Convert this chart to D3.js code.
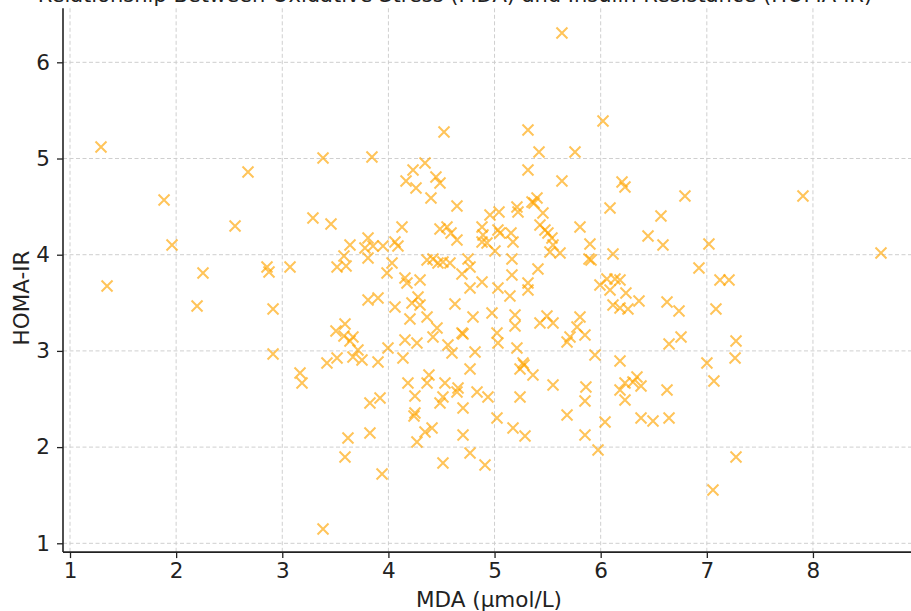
<!DOCTYPE html>
<html>
<head>
<meta charset="utf-8">
<script src="https://cdn.jsdelivr.net/npm/d3@7"></script>
<style>
  html, body { margin: 0; padding: 0; background: #ffffff; }
  svg { display: block; font-family: "DejaVu Sans", sans-serif; }
</style>
</head>
<body>
<svg id="chart" width="911" height="611"></svg>
<script>
// ---- data ----
const mdaValues = [
  1.292, 1.349, 1.886, 1.961, 2.197, 2.253, 2.555, 2.677, 2.856, 2.875,
  2.913, 2.913, 3.073, 3.167, 3.186, 3.289, 3.384, 3.384, 3.459, 3.421,
  3.516, 3.516, 3.601, 3.506, 3.591, 3.581, 3.666, 3.638, 3.619, 3.591,
  3.845, 4.524, 5.635, 5.315, 5.419, 5.758, 5.315, 5.635, 6.022, 6.201,
  6.229, 4.345, 4.232, 4.166, 4.260, 4.448, 4.486, 4.401, 4.646, 4.128,
  4.957, 5.042, 5.211, 5.221, 5.353, 5.372, 5.400, 5.456, 6.088, 5.805,
  5.899, 4.486, 4.552, 4.590, 4.646, 4.882, 4.891, 4.882, 4.929, 5.032,
  5.051, 5.155, 5.174, 5.428, 5.475, 5.503, 5.541, 5.551, 5.522, 5.617,
  5.004, 5.890, 5.909, 6.116, 3.638, 3.581, 3.808, 3.855, 3.779, 3.949,
  4.062, 4.090, 3.808, 4.364, 4.420, 4.467, 4.514, 4.580, 4.693, 4.750,
  4.769, 5.164, 5.164, 5.409, 4.034, 3.987, 4.156, 4.175, 4.298, 4.769,
  4.882, 5.032, 5.315, 5.315, 5.145, 5.993, 6.059, 6.135, 6.182, 6.088,
  6.238, 3.808, 3.902, 4.279, 4.222, 4.298, 4.627, 4.062, 4.976, 5.193,
  5.193, 6.116, 6.182, 6.257, 6.361, 4.203, 4.364, 4.458, 4.797, 5.428,
  5.494, 5.551, 5.711, 5.777, 5.805, 5.852, 5.683, 4.156, 4.269, 4.693,
  4.703, 5.023, 5.032, 4.420, 5.211, 4.561, 4.599, 4.816, 3.996, 3.713,
  3.751, 3.666, 3.902, 4.137, 5.268, 6.182, 5.946, 4.769, 4.184, 4.250,
  4.364, 4.382, 4.533, 4.514, 4.486, 4.656, 4.646, 4.703, 4.835, 4.938,
  3.826, 3.921, 4.250, 4.241, 4.345, 4.411, 4.269, 4.703, 3.826, 3.940,
  4.514, 4.769, 4.910, 5.023, 5.174, 5.287, 5.240, 5.277, 5.362, 5.240,
  5.551, 5.683, 5.861, 5.852, 5.852, 5.975, 6.041, 6.182, 6.229, 6.229,
  6.794, 7.906, 6.568, 6.446, 6.587, 7.020, 8.641, 6.926, 7.124, 7.209,
  6.625, 6.738, 7.086, 6.644, 6.757, 7.275, 7.001, 7.266, 7.067, 6.342,
  6.380, 6.304, 6.625, 6.380, 6.493, 6.644, 7.275, 7.058
];
const homaValues = [
  5.120, 3.675, 4.569, 4.101, 3.467, 3.810, 4.298, 4.860, 3.872, 3.820,
  3.436, 2.968, 3.872, 2.770, 2.666, 4.381, 5.005, 1.149, 4.319, 2.874,
  2.926, 3.872, 3.883, 3.207, 3.280, 3.155, 3.145, 3.103, 2.095, 1.897,
  5.016, 5.275, 6.305, 5.296, 5.068, 5.068, 4.880, 4.766, 5.390, 4.756,
  4.704, 4.953, 4.880, 4.766, 4.693, 4.808, 4.745, 4.589, 4.506, 4.288,
  4.413, 4.444, 4.496, 4.444, 4.548, 4.537, 4.589, 4.434, 4.485, 4.288,
  4.111, 4.267, 4.288, 4.226, 4.153, 4.288, 4.205, 4.132, 4.122, 4.257,
  4.226, 4.226, 4.132, 4.309, 4.257, 4.226, 4.174, 4.101, 4.028, 4.018,
  4.039, 3.955, 3.945, 4.007, 4.101, 3.987, 4.174, 4.090, 4.070, 4.090,
  4.132, 4.090, 3.966, 3.945, 3.955, 3.914, 3.924, 3.914, 3.799, 3.955,
  3.872, 3.955, 3.789, 3.851, 3.914, 3.810, 3.758, 3.706, 3.737, 3.654,
  3.716, 3.654, 3.706, 3.633, 3.571, 3.685, 3.747, 3.747, 3.737, 3.633,
  3.602, 3.529, 3.550, 3.560, 3.498, 3.478, 3.488, 3.456, 3.394, 3.373,
  3.259, 3.477, 3.446, 3.436, 3.519, 3.332, 3.353, 3.238, 3.353, 3.290,
  3.363, 3.290, 3.144, 3.248, 3.353, 3.165, 3.092, 3.113, 3.082, 3.186,
  3.176, 3.186, 3.082, 3.144, 3.030, 3.061, 2.978, 2.988, 3.030, 3.009,
  2.905, 2.936, 2.884, 2.926, 2.874, 2.895, 2.957, 2.812, 2.666, 2.531,
  2.666, 2.749, 2.666, 2.521, 2.458, 2.614, 2.573, 2.406, 2.573, 2.521,
  2.458, 2.510, 2.354, 2.323, 2.157, 2.199, 2.053, 2.126, 2.147, 1.720,
  1.835, 1.939, 1.814, 2.302, 2.199, 2.115, 2.812, 2.853, 2.749, 2.521,
  2.646, 2.334, 2.625, 2.479, 2.126, 1.970, 2.261, 2.594, 2.666, 2.490,
  4.610, 4.610, 4.402, 4.194, 4.101, 4.111, 4.018, 3.862, 3.737, 3.737,
  3.508, 3.415, 3.436, 3.072, 3.144, 3.103, 2.874, 2.926, 2.687, 2.729,
  2.636, 2.677, 2.594, 2.302, 2.271, 2.302, 1.897, 1.554
];
const xTicks = [1, 2, 3, 4, 5, 6, 7, 8];
const yTicks = [1, 2, 3, 4, 5, 6];
const xLabel = "MDA (μmol/L)";
const yLabel = "HOMA-IR";
const titleText = "Relationship Between Oxidative Stress (MDA) and Insulin Resistance (HOMA-IR)";

// ---- drawing ----
const svg = d3.select("#chart");
const x = d3.scaleLinear().domain([0.934, 8.986]).range([63, 917.6]);
const y = d3.scaleLinear().domain([0.9085, 6.5615]).range([552.1, 8.3]);
const [x0, x1] = x.range();
const [yB, yT] = y.range();

// title (mostly above the top edge, as in the reference)
svg.append("text")
  .attr("x", 455).attr("y", 1.5)
  .attr("text-anchor", "middle")
  .attr("font-size", 21)
  .attr("fill", "#222")
  .text(titleText);

// grid
const grid = svg.append("g")
  .attr("stroke", "#cfcfcf").attr("stroke-width", 1)
  .attr("stroke-dasharray", "4,2.5");
grid.selectAll("line.vx").data(xTicks).join("line")
  .attr("class", "vx")
  .attr("x1", d => x(d)).attr("x2", d => x(d))
  .attr("y1", yT).attr("y2", yB);
grid.selectAll("line.hy").data(yTicks).join("line")
  .attr("class", "hy")
  .attr("y1", d => y(d)).attr("y2", d => y(d))
  .attr("x1", x0).attr("x2", x1);

// points
const pts = d3.range(mdaValues.length).map(i => ({ mx: mdaValues[i], hy: homaValues[i] }));
const s = 5.5;
svg.append("g")
  .selectAll("path").data(pts).join("path")
  .attr("d", d => {
    const cx = x(d.mx), cy = y(d.hy);
    return `M${cx - s},${cy - s}L${cx + s},${cy + s}M${cx - s},${cy + s}L${cx + s},${cy - s}`;
  })
  .attr("fill", "none")
  .attr("stroke", "#FFA500")
  .attr("stroke-opacity", 0.65)
  .attr("stroke-width", 2);

// axes
const xAxis = d3.axisBottom(x).tickValues(xTicks).tickSize(6).tickPadding(5).tickFormat(d3.format("d"));
const yAxis = d3.axisLeft(y).tickValues(yTicks).tickSize(6).tickPadding(7).tickFormat(d3.format("d"));

const gx = svg.append("g").attr("transform", `translate(0,${yB})`).call(xAxis);
const gy = svg.append("g").attr("transform", `translate(${x0},0)`).call(yAxis);
[gx, gy].forEach(g => {
  g.select(".domain").remove();
  g.selectAll(".tick line").attr("stroke", "#222").attr("stroke-width", 1.3);
  g.selectAll(".tick text").attr("fill", "#222").attr("font-size", 21.5)
    .attr("font-family", "DejaVu Sans, sans-serif");
});

// spines (left and bottom only)
svg.append("line").attr("x1", x0).attr("x2", x0).attr("y1", yT).attr("y2", yB)
  .attr("stroke", "#222").attr("stroke-width", 1.6);
svg.append("line").attr("x1", x0).attr("x2", x1).attr("y1", yB).attr("y2", yB)
  .attr("stroke", "#222").attr("stroke-width", 1.6);

// axis labels
svg.append("text")
  .attr("x", 489).attr("y", 607)
  .attr("text-anchor", "middle")
  .attr("font-size", 21.5).attr("fill", "#222")
  .text(xLabel);
svg.append("text")
  .attr("transform", `translate(29,298) rotate(-90)`)
  .attr("text-anchor", "middle")
  .attr("font-size", 21.5).attr("fill", "#222")
  .text(yLabel);
</script>
</body>
</html>
